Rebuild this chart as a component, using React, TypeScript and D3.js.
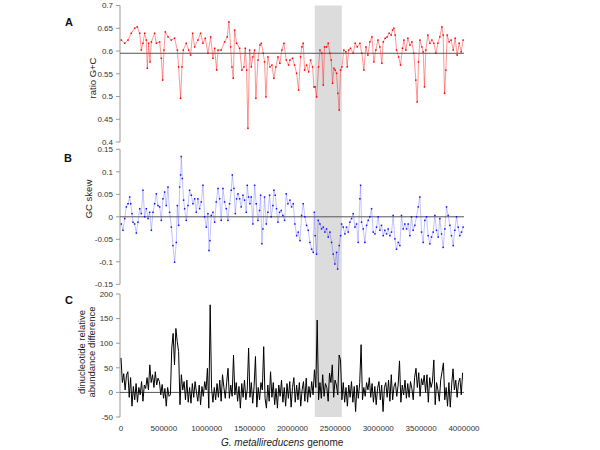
import React from "react";
import * as d3 from "d3";

// Panel A: ratio G+C (position in kb, value)
const aPos = [4,43,82,120,159,190,218,237,256,276,295,307,322,338,354,392,412,451,470,486,501,517,548,587,625,657,672,695,711,726,761,789,812,835,859,897,928,956,983,1014,1045,1072,1092,1115,1131,1169,1208,1239,1259,1278,1294,1309,1325,1348,1383,1410,1434,1449,1465,1480,1500,1519,1538,1558,1573,1597,1620,1636,1659,1674,1690,1713,1737,1760,1783,1806,1830,1853,1876,1900,1927,1954,
  1970,2001,2024,2048,2071,2094,2110,2125,2141,2164,2188,2211,2234,2250,2265,2281,2304,2320,2343,2359,2374,2397,2417,2436,2452,2467,2483,2498,2514,2529,2545,2560,2576,2599,2623,2638,2654,2677,2708,2731,2755,2786,2809,2832,2856,2879,2902,2926,2949,2972,2996,3019,3042,3058,3081,3104,3128,3151,3167,3182,3198,3213,3237,3260,3283,3299,3322,3345,3369,3392,3415,3438,3454,3470,3485,3508,3524,3539,3555,3578,3602,3625,3648,3672,3695,3718,3742,3757,3773,3788,3804,3827,3850,3874,3897,3920,3944,3967,3990];
const aVal = [0.624,0.617,0.624,0.639,0.650,0.653,0.639,0.602,0.617,0.639,0.624,0.562,0.617,0.576,0.620,0.639,0.617,0.620,0.584,0.536,0.602,0.642,0.631,0.624,0.628,0.602,0.565,0.496,0.565,0.602,0.617,0.602,0.591,0.639,0.609,0.624,0.639,0.617,0.628,0.595,0.631,0.584,0.606,0.558,0.602,0.602,0.620,0.631,0.664,0.609,0.565,0.540,0.646,0.617,0.606,0.558,0.565,0.606,0.558,0.430,0.602,0.565,0.587,0.602,0.496,0.580,0.613,0.617,0.595,0.576,0.499,0.587,0.565,0.569,0.540,0.565,0.587,0.573,0.602,0.617,0.580,0.569,
  0.580,0.584,0.569,0.551,0.514,0.587,0.609,0.617,0.558,0.569,0.554,0.580,0.565,0.521,0.521,0.499,0.565,0.602,0.595,0.525,0.609,0.609,0.617,0.595,0.580,0.529,0.562,0.558,0.551,0.507,0.470,0.558,0.565,0.602,0.598,0.565,0.602,0.606,0.595,0.617,0.609,0.617,0.595,0.558,0.609,0.591,0.620,0.631,0.576,0.602,0.624,0.609,0.573,0.620,0.628,0.631,0.639,0.635,0.646,0.650,0.635,0.602,0.587,0.569,0.606,0.624,0.602,0.628,0.613,0.620,0.595,0.536,0.488,0.576,0.624,0.609,0.598,0.521,0.602,0.635,0.617,0.624,0.617,0.595,0.617,0.631,0.653,0.635,0.507,0.558,0.635,0.620,0.624,0.602,0.628,0.591,0.617,0.598,0.624];
const aMean = 0.595;

// Panel B: GC skew
const bPos = [4,23,43,62,82,101,113,128,140,159,179,198,218,237,256,276,295,315,334,354,373,392,412,431,451,470,489,509,528,548,567,587,606,625,645,657,672,684,695,703,715,730,742,761,781,800,820,839,859,878,897,917,936,956,975,995,1014,1026,1037,1053,1072,1092,1111,1131,1150,1169,1189,1208,1228,1247,1266,1286,1298,1317,1333,1348,1364,1383,1402,1422,1441,1461,1472,1488,1503,1519,1538,1558,1577,1597,1616,1628,1643,1655,1674,1694,1713,1733,1752,1772,1783,1799,1814,1830,1849,1869,1888,1908,1927,1946,
  1970,1989,2009,2028,2048,2067,2087,2106,2125,2145,2164,2184,2203,2223,2242,2254,2265,2281,2300,2320,2339,2359,2378,2397,2417,2436,2456,2475,2494,2514,2526,2545,2561,2572,2592,2611,2630,2650,2669,2689,2708,2728,2747,2766,2786,2794,2805,2825,2844,2864,2883,2902,2922,2941,2961,2980,2999,3019,3038,3058,3077,3097,3116,3136,3155,3174,3194,3213,3233,3252,3271,3291,3310,3330,3349,3369,3388,3407,3427,3446,3466,3485,3505,3524,3543,3563,3582,3602,3621,3641,3660,3679,3699,3718,3738,3757,3777,3796,3815,3835,3854,3874,3893,3913,3932,3951,3971,3990];
const bVal = [-0.016,-0.030,-0.004,0.022,0.029,0.044,0.029,0.007,-0.012,-0.016,-0.036,-0.012,0.018,0.007,0.059,0,0.018,-0.004,0.010,-0.030,0.010,0.029,0.051,0.025,0.022,-0.008,0.040,0.055,0.025,0.066,0.010,-0.023,-0.064,-0.101,-0.057,0.025,-0.019,0.066,0.093,0.134,0.085,0.037,0.018,-0.008,0.025,0.059,0.048,0.029,0.040,0.010,0.040,0.018,0.033,0.070,0,-0.023,0.007,-0.075,-0.053,0.003,0.010,-0.012,0.033,0.063,0.040,-0.008,0.063,0.033,0.018,-0.008,0.029,0.059,0.093,0.063,0.007,0.040,0.051,0.040,0.022,0.048,0.037,0.010,0.070,0.044,0.029,0.044,-0.016,0.070,0.029,-0.008,0.014,0.048,-0.060,-0.027,0.044,-0.016,0.010,0.048,0,0.025,0.059,0.048,0.018,-0.012,0.010,0.014,0.003,-0.008,0.051,0.029,
  0.037,0.022,0.029,-0.016,-0.042,-0.034,-0.053,0.003,0.029,0,-0.019,-0.030,-0.057,-0.072,-0.079,0.010,-0.042,-0.083,-0.008,-0.016,-0.027,-0.023,-0.034,-0.027,-0.045,-0.034,-0.057,-0.083,-0.105,-0.079,-0.116,-0.064,-0.042,-0.016,-0.023,-0.038,-0.023,-0.034,-0.012,-0.004,0.007,-0.023,-0.016,-0.057,0.040,0.070,-0.012,-0.027,-0.057,-0.019,-0.008,0,0.018,-0.034,-0.038,-0.023,0,-0.030,-0.019,-0.042,-0.030,-0.038,-0.027,-0.042,-0.034,0.003,-0.049,-0.072,-0.057,-0.064,0.003,-0.027,-0.016,-0.027,-0.016,-0.042,0,-0.030,-0.019,0,0.022,0.044,-0.034,-0.057,-0.008,0,-0.042,-0.060,-0.045,-0.034,0.003,-0.030,-0.045,-0.004,-0.038,-0.068,-0.027,0.022,0.003,-0.019,-0.042,-0.064,-0.030,0,-0.023,-0.042,-0.034,-0.023];

// Panel C: dinucleotide relative abundance difference, windows of 16 kb
const cStepKb = 16;
const cVal = [70,20,38,5,35,42,-10,30,-28,12,
  -15,18,-20,10,-5,22,-18,15,8,30,
  5,56,20,36,10,42,15,29,22,-5,
  16,-12,8,-28,10,-8,-5,90,120,56,
  130,103,83,-25,36,5,22,-15,25,-20,
  10,-22,18,-10,22,0,-18,15,-25,12,
  -8,22,5,49,-32,178,8,-20,10,-15,
  18,-10,25,-18,36,10,-12,20,49,-12,
  15,-8,76,-5,20,-18,12,-32,18,-10,
  25,-15,5,90,-10,20,-22,12,73,-30,
  10,-15,20,5,93,-12,-32,15,-18,42,
  -10,20,-25,8,-32,15,-8,25,-20,10,
  -28,18,-12,22,-30,10,30,-20,15,-15,
  20,-28,5,22,-18,29,-20,12,-10,22,
  -5,46,10,147,-15,20,-12,36,-8,18,
  10,-18,39,20,56,-10,25,15,-5,76,
  66,-15,20,-20,10,-28,15,-10,22,-20,
  12,-39,15,-12,20,97,-15,10,-8,20,
  5,30,-10,18,-20,12,-25,8,22,-15,
  15,-39,10,20,-10,25,-18,36,-15,12,
  20,-8,15,64,-20,15,-5,25,-12,18,
  -10,22,8,-15,30,49,10,40,-8,28,
  15,35,0,36,-20,30,10,22,66,-25,
  20,5,-18,25,42,60,-15,10,-28,20,
  -30,15,48,5,25,-10,20,29,-5,40];

const xTicks = [0,500000,1000000,1500000,2000000,2500000,3000000,3500000,4000000];
const aTicks = [0.4,0.45,0.5,0.55,0.6,0.65,0.7];
const bTicks = [-0.15,-0.1,-0.05,0,0.05,0.1,0.15];
const cTicks = [-50,0,50,100,150,200];
const band = [2260000, 2575000];

const FONT = "Arial, 'Liberation Sans', sans-serif";

export default function App() {
  const x = d3.scaleLinear().domain([0, 4000000]).range([121, 464]);
  const yA = d3.scaleLinear().domain([0.4, 0.7]).range([142, 5.5]);
  const yB = d3.scaleLinear().domain([-0.15, 0.15]).range([284.3, 149.3]);
  const yC = d3.scaleLinear().domain([-50, 200]).range([417, 294]);

  const aData = aPos.map((p, i) => [p * 1000, aVal[i]] as [number, number]);
  const bData = bPos.map((p, i) => [p * 1000, bVal[i]] as [number, number]);
  const cData = cVal.map((v, i) => [i * cStepKb * 1000, v] as [number, number]);

  const lineA = d3.line<[number, number]>().x(d => x(d[0])).y(d => yA(d[1]));
  const lineB = d3.line<[number, number]>().x(d => x(d[0])).y(d => yB(d[1]));
  const lineC = d3.line<[number, number]>().x(d => x(d[0])).y(d => yC(d[1]));

  const axisX = 120;
  const yAxis = (scale: d3.ScaleLinear<number, number>, ticks: number[]) => (
    <g>
      <line x1={axisX} x2={axisX} y1={scale(ticks[0])} y2={scale(ticks[ticks.length - 1])} stroke="#999" strokeWidth={1} />
      {ticks.map(t => (
        <g key={t}>
          <line x1={axisX - 4} x2={axisX} y1={scale(t)} y2={scale(t)} stroke="#999" strokeWidth={1} />
          <text x={113} y={scale(t)} dy="0.35em" textAnchor="end" fontSize={8} fill="#333" fontFamily={FONT}>{String(t)}</text>
        </g>
      ))}
    </g>
  );

  return (
    <svg width={600} height={450} style={{ position: "absolute", left: 0, top: 0, background: "#fff" }}>
      <rect x={x(band[0])} y={yA(0.7)} width={x(band[1]) - x(band[0])} height={yC(-50) - yA(0.7)} fill="#dcdcdc" />

      {/* Panel A */}
      {yAxis(yA, aTicks)}
      <line x1={axisX} x2={x(4000000)} y1={yA(aMean)} y2={yA(aMean)} stroke="#555" strokeWidth={1} />
      <path d={lineA(aData) || ""} fill="none" stroke="#ff2020" strokeWidth={0.8} strokeOpacity={0.6} />
      {aData.map((d, i) => (
        <rect key={i} x={x(d[0]) - 0.75} y={yA(d[1]) - 0.75} width={1.5} height={1.5} fill="#ff0000" />
      ))}
      <text x={65} y={26} fontSize={11} fontWeight="bold" fontFamily={FONT} fill="#111">A</text>
      <text transform="translate(93,78) rotate(-90)" textAnchor="middle" dy="0.35em" fontSize={9.5} fill="#222" fontFamily={FONT}>ratio G+C</text>

      {/* Panel B */}
      {yAxis(yB, bTicks)}
      <line x1={axisX} x2={x(4000000)} y1={yB(0)} y2={yB(0)} stroke="#555" strokeWidth={1} />
      <path d={lineB(bData) || ""} fill="none" stroke="#4040ff" strokeWidth={0.7} strokeOpacity={0.45} />
      {bData.map((d, i) => (
        <rect key={i} x={x(d[0]) - 0.75} y={yB(d[1]) - 0.75} width={1.5} height={1.5} fill="#1010ff" />
      ))}
      <text x={64} y={162} fontSize={11} fontWeight="bold" fontFamily={FONT} fill="#111">B</text>
      <text transform="translate(89,199) rotate(-90)" textAnchor="middle" dy="0.35em" fontSize={9.5} fill="#222" fontFamily={FONT}>GC skew</text>

      {/* Panel C */}
      {yAxis(yC, cTicks)}
      <line x1={axisX} x2={x(4000000)} y1={yC(0)} y2={yC(0)} stroke="#555" strokeWidth={1} />
      <path d={lineC(cData) || ""} fill="none" stroke="#000" strokeWidth={1} />
      <text x={65} y={304} fontSize={11} fontWeight="bold" fontFamily={FONT} fill="#111">C</text>
      <text transform="translate(82,352) rotate(-90)" textAnchor="middle" dy="0.35em" fontSize={9.5} fill="#222" fontFamily={FONT}>dinucleotide relative</text>
      <text transform="translate(92,352) rotate(-90)" textAnchor="middle" dy="0.35em" fontSize={9.5} fill="#222" fontFamily={FONT}>abundance difference</text>

      {xTicks.map(t => (
        <text key={t} x={x(t)} y={428} dy="0.35em" textAnchor="middle" fontSize={8} fill="#333" fontFamily={FONT}>{t}</text>
      ))}
      <text x={221} y={446} fontSize={10} fill="#222" fontFamily={FONT}>
        <tspan fontStyle="italic">G. metallireducens</tspan> genome
      </text>
    </svg>
  );
}
